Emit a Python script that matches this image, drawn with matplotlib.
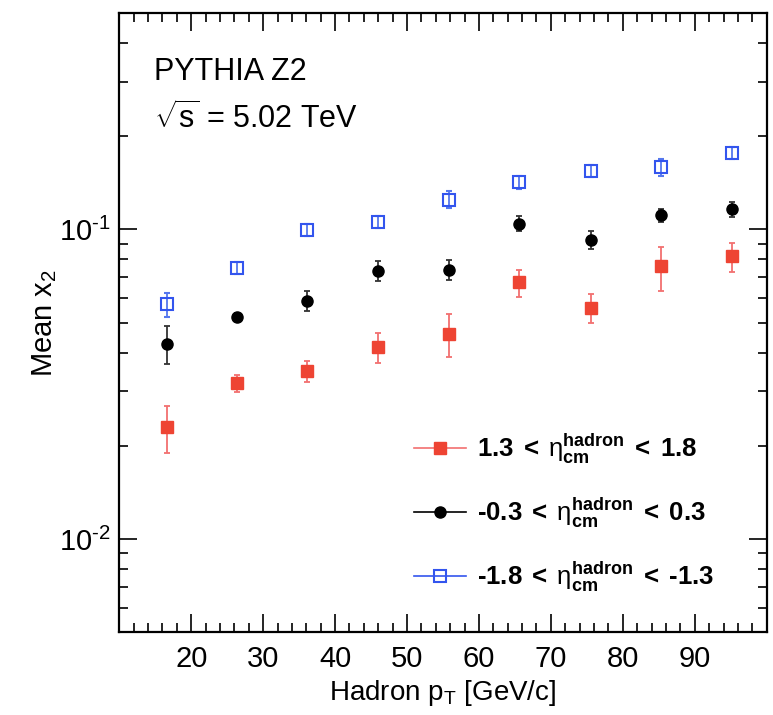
import numpy as np
import matplotlib
matplotlib.use("Agg")
import matplotlib.pyplot as plt
from matplotlib.lines import Line2D
from matplotlib.ticker import MultipleLocator, LogLocator, NullFormatter

plt.rcParams['font.family'] = ['Liberation Sans', 'DejaVu Sans']
plt.rcParams['mathtext.fontset'] = 'custom'
plt.rcParams['mathtext.rm'] = 'Liberation Sans'
plt.rcParams['mathtext.it'] = 'Liberation Sans:italic'
plt.rcParams['mathtext.bf'] = 'Liberation Sans:bold'

# hadron pT bin centres
pt = [16.6, 26.3, 36.1, 46.0, 55.9, 65.6, 75.6, 85.3, 95.2]

# 1.3 < eta < 1.8 (red)
red_y = [0.0230, 0.0319, 0.0350, 0.0417, 0.0458, 0.0675, 0.0558, 0.0760, 0.0818]
red_lo = [0.0190, 0.0298, 0.0322, 0.0371, 0.0387, 0.0607, 0.0498, 0.0635, 0.0728]
red_hi = [0.0270, 0.0339, 0.0377, 0.0463, 0.0532, 0.0741, 0.0618, 0.0880, 0.0903]

# -0.3 < eta < 0.3 (black)
blk_y = [0.0425, 0.0521, 0.0587, 0.0736, 0.0741, 0.1043, 0.0926, 0.1110, 0.1160]
blk_lo = [0.0367, 0.0505, 0.0547, 0.0684, 0.0686, 0.0985, 0.0867, 0.1057, 0.1094]
blk_hi = [0.0486, 0.0537, 0.0632, 0.0788, 0.0796, 0.1101, 0.0988, 0.1167, 0.1228]

# -1.8 < eta < -1.3 (blue)
blu_y = [0.0573, 0.0750, 0.0993, 0.1057, 0.1247, 0.1422, 0.1549, 0.1596, 0.1766]
blu_lo = [0.0520, 0.0716, 0.0950, 0.1010, 0.1175, 0.1353, 0.1480, 0.1490, 0.1690]
blu_hi = [0.0625, 0.0785, 0.1040, 0.1105, 0.1327, 0.1486, 0.1620, 0.1690, 0.1845]

H = '\u2010'  # short hyphen as in the original
labels = [r'$\mathbf{1.3\;<\;}\mathrm{\eta}^{\mathbf{hadron}}_{\mathbf{cm}}\mathbf{\;<\;1.8}$',
          r'$\mathbf{' + H + r'0.3\;<\;}\mathrm{\eta}^{\mathbf{hadron}}_{\mathbf{cm}}\mathbf{\;<\;0.3}$',
          r'$\mathbf{' + H + r'1.8\;<\;}\mathrm{\eta}^{\mathbf{hadron}}_{\mathbf{cm}}\mathbf{\;<\;' + H + r'1.3}$']

fig = plt.figure(figsize=(7.73, 7.15), dpi=100)
ax = fig.add_axes([0.1543, 0.1157, 0.8375, 0.8661])


def err(y, lo, hi):
    y = np.array(y)
    return [y - np.array(lo), np.array(hi) - y]


ax.errorbar(pt, red_y, yerr=err(red_y, red_lo, red_hi), fmt='s', color='#ee4433',
            ecolor='#f27070', elinewidth=1.3, capsize=2, capthick=1.3, ms=8.5, zorder=3)
ax.errorbar(pt, blk_y, yerr=err(blk_y, blk_lo, blk_hi), fmt='o', color='black',
            ecolor='#333333', elinewidth=1.3, capsize=2, capthick=1.3, ms=8, zorder=3)
ax.errorbar(pt, blu_y, yerr=err(blu_y, blu_lo, blu_hi), fmt='s', mfc='none', mec='#3355ee',
            mew=1.5, ecolor='#5577ee', elinewidth=1.3, capsize=2, capthick=1.3, ms=9, zorder=3)

ax.set_yscale('log')
ax.set_xlim(10, 100)
ax.set_ylim(0.005, 0.5)

ax.xaxis.set_major_locator(MultipleLocator(10))
ax.xaxis.set_minor_locator(MultipleLocator(2))
ax.set_xticks([20, 30, 40, 50, 60, 70, 80, 90])
ax.yaxis.set_minor_locator(LogLocator(base=10, subs=np.arange(2, 10), numticks=20))
ax.yaxis.set_minor_formatter(NullFormatter())
ax.set_yticks([0.01, 0.1])
ax.set_yticklabels([r'$10^{' + H + '2}$', r'$10^{' + H + '1}$'])

ax.tick_params(which='both', direction='in', top=True, right=True, width=1.2, labelsize=21)
ax.tick_params(which='major', length=13)
ax.tick_params(which='minor', length=6.5)
ax.tick_params(axis='x', pad=9)
ax.tick_params(axis='y', pad=6)
for s in ax.spines.values():
    s.set_linewidth(1.6)

ax.set_xlabel(r'Hadron p$_\mathrm{T}$ [GeV/c]', fontsize=20, labelpad=4)
ax.set_ylabel(r'Mean x$_\mathrm{2}$', fontsize=21, labelpad=0)

ax.text(0.053, 0.892, 'PYTHIA Z2', transform=ax.transAxes, fontsize=22, va='baseline')
ax.text(0.053, 0.814, r'$\sqrt{\mathrm{s}}$ = 5.02 TeV', transform=ax.transAxes, fontsize=22,
        va='baseline')

handles = [Line2D([], [], color='#f27070', marker='s', mfc='#ee4433', mec='#ee4433', ms=9, lw=1.2),
           Line2D([], [], color='black', marker='o', mfc='black', mec='black', ms=8, lw=1.2),
           Line2D([], [], color='#3355ee', marker='s', mfc='none', mec='#3355ee', mew=1.5, ms=9, lw=1.2)]
ax.legend(handles, labels, loc='lower left', bbox_to_anchor=(0.42, 0.025), frameon=False,
          fontsize=18.5, handlelength=2.0, handletextpad=0.45, labelspacing=1.15)

fig.savefig('out.png', dpi=100)
